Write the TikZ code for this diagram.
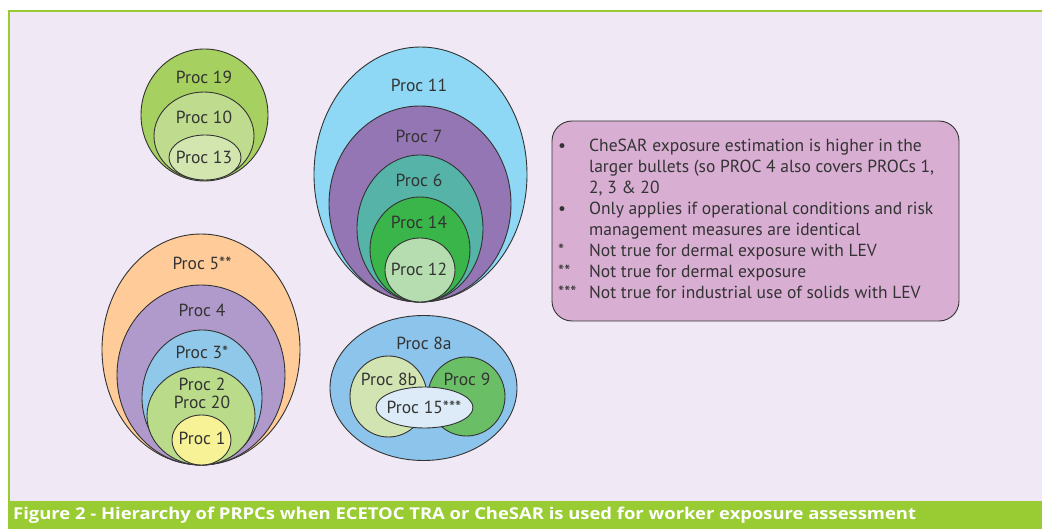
\documentclass[tikz,border=0pt]{standalone}
\usepackage{fontspec}
\setmainfont{PT Sans}
\newfontfamily\capfont{Open Sans}
\usetikzlibrary{shapes.geometric}
\definecolor{bglav}{HTML}{F0E8F4}
\definecolor{framegreen}{HTML}{99CC33}
\definecolor{ink}{HTML}{333333}
\definecolor{cA}{HTML}{A6D060}
\definecolor{cB}{HTML}{BFDC8E}
\definecolor{cC}{HTML}{D4E6B0}
\definecolor{cD}{HTML}{FFCC99}
\definecolor{cE}{HTML}{B09ACB}
\definecolor{cF}{HTML}{90C8EA}
\definecolor{cG}{HTML}{B9DB8A}
\definecolor{cH}{HTML}{F7F295}
\definecolor{cI}{HTML}{8ED8F5}
\definecolor{cJ}{HTML}{9376B3}
\definecolor{cK}{HTML}{55B3A8}
\definecolor{cL}{HTML}{3AB54A}
\definecolor{cM}{HTML}{B5DDB0}
\definecolor{cN}{HTML}{8CC4EC}
\definecolor{cO}{HTML}{D2E4B2}
\definecolor{cP}{HTML}{6ABF66}
\definecolor{cQ}{HTML}{DCEBF7}
\definecolor{boxfill}{HTML}{D8AED3}
\begin{document}
\begin{tikzpicture}[x=1pt,y=-1pt,
  blob/.style={ellipse, draw=ink, line width=0.9pt, inner sep=0pt},
  lbl/.style={text=ink, inner sep=0pt, font=\fontsize{17.5}{20}\selectfont},
  notebox/.style={draw=ink, line width=0.9pt, fill=boxfill, rounded corners=20pt, minimum width=407pt, minimum height=200pt, inner sep=0pt}
]
\useasboundingbox (0,0) rectangle (1042,529);
% frame
\fill[bglav] (8,10) rectangle (1042,501);
\draw[framegreen, line width=1.6pt] (8.8,501) -- (8.8,10.8) -- (1042,10.8);
\fill[framegreen] (8,501) rectangle (1042,529);
\node[anchor=west, text=white, inner sep=0pt, font=\capfont\fontsize{16.3}{20}\selectfont\bfseries] (caption) at (13,515.2)
  {\scalebox{1.13}[1]{Figure 2 - Hierarchy of PRPCs when ECETOC TRA or CheSAR is used for worker exposure assessment}};

% group 19/10/13
\node[blob, fill=cA, minimum width=127pt, minimum height=132pt] (e19) at (204.5,115) {};
\node[blob, fill=cB, minimum width=100pt, minimum height=88pt] (e10) at (204,136) {};
\node[blob, fill=cC, minimum width=72pt, minimum height=45pt] (e13) at (205,157.5) {};
\node[lbl] (t19) at (204,77) {Proc 19};
\node[lbl] (t10) at (204,117) {Proc 10};
\node[lbl] (t13) at (204,157) {Proc 13};

% group 5/4/3/2/20/1
\node[blob, fill=cD, minimum width=198pt, minimum height=231pt] (e5) at (201,349.5) {};
\node[blob, fill=cE, minimum width=168pt, minimum height=180pt] (e4) at (201,375) {};
\node[blob, fill=cF, minimum width=120pt, minimum height=135pt] (e3) at (202,397.5) {};
\node[blob, fill=cG, minimum width=108pt, minimum height=98pt] (e2) at (201,416) {};
\node[blob, fill=cH, minimum width=59pt, minimum height=50pt] (e1) at (201.5,440) {};
\node[lbl] (t5) at (202,263) {Proc 5**};
\node[lbl] (t4) at (202,310) {Proc 4};
\node[lbl] (t3) at (202,352) {Proc 3*};
\node[lbl] (t2) at (202,384) {Proc 2};
\node[lbl] (t20) at (202,402) {Proc 20};
\node[lbl] (t1) at (202,438) {Proc 1};

% group 11/7/6/14/12
\node[blob, fill=cI, minimum width=213pt, minimum height=255pt] (e11) at (420.5,174.5) {};
\node[blob, fill=cJ, minimum width=182pt, minimum height=196pt] (e7) at (420,204) {};
\node[blob, fill=cK, minimum width=126pt, minimum height=147pt] (e6) at (420,228.5) {};
\node[blob, fill=cL, minimum width=100pt, minimum height=105pt] (e14) at (420,249.5) {};
\node[blob, fill=cM, minimum width=70pt, minimum height=64pt] (e12) at (420,270) {};
\node[lbl] (t11) at (419,85) {Proc 11};
\node[lbl] (t7) at (419,136) {Proc 7};
\node[lbl] (t6) at (419,180) {Proc 6};
\node[lbl] (t14) at (419,222) {Proc 14};
\node[lbl] (t12) at (419,269) {Proc 12};

% group 8a/8b/9/15
\node[blob, fill=cN, minimum width=187pt, minimum height=145pt] (e8a) at (423.5,388) {};
\node[blob, fill=cP, minimum width=77pt, minimum height=79pt] (e9) at (466.5,396.5) {};
\node[blob, fill=cO, minimum width=77pt, minimum height=81pt] (e8b) at (388.5,396.5) {};
\node[blob, fill=cQ, minimum width=97pt, minimum height=41pt] (e15) at (424.5,407.5) {};
\node[lbl] (t8a) at (424,343) {Proc 8a};
\node[lbl] (t8b) at (389,379) {Proc 8b};
\node[lbl] (t9) at (467,379) {Proc 9};
\node[lbl] (t15) at (424,407) {Proc 15***};

% notes box
\node[notebox] (notes) at (755.5,221) {};
\node[anchor=north west, inner sep=0pt, text=ink, font=\fontsize{17.5}{21}\selectfont] (notetext) at (558,136.3) {%
\begin{tabular}{@{}p{31pt}@{}l@{}}
{\textbullet} & CheSAR exposure estimation is higher in the\\
{} & larger bullets (so PROC 4 also covers PROCs 1,\\
{} & 2, 3 \& 20\\
{\textbullet} & Only applies if operational conditions and risk\\
{} & management measures are identical\\
{*} & Not true for dermal exposure with LEV\\
{**} & Not true for dermal exposure\\
{***} & Not true for industrial use of solids with LEV
\end{tabular}};
\end{tikzpicture}
\end{document}
